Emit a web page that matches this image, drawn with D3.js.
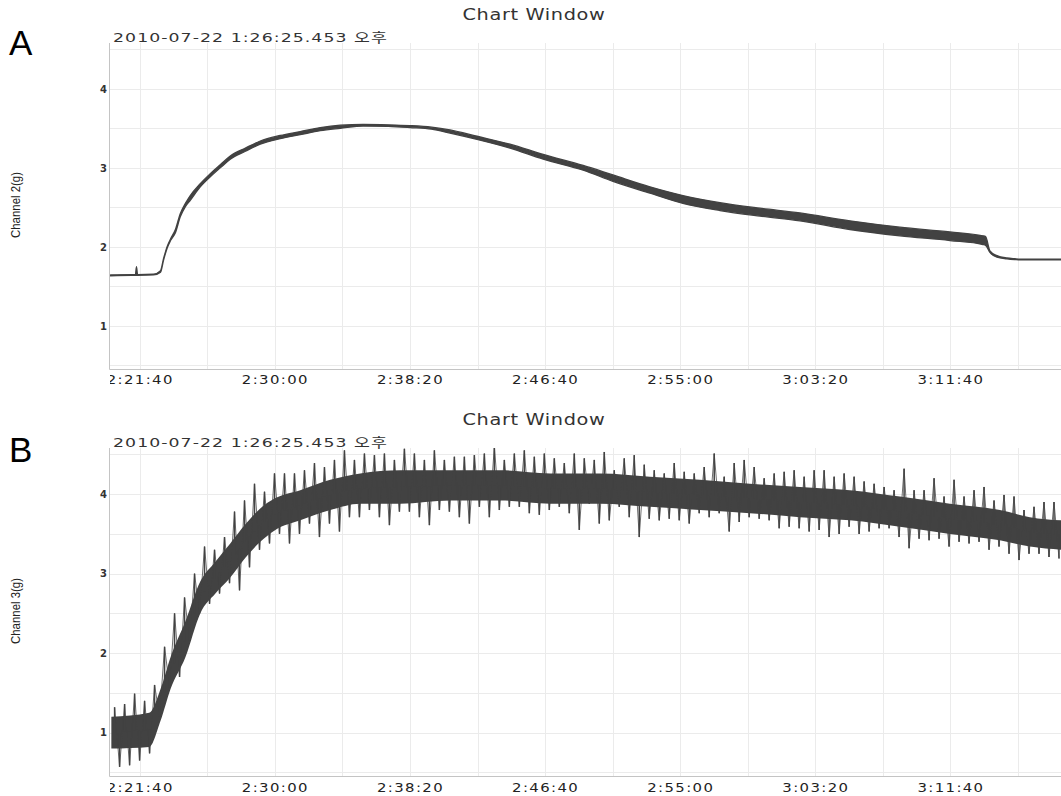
<!DOCTYPE html>
<html><head><meta charset="utf-8">
<script src="https://cdn.jsdelivr.net/npm/d3@7"></script>
<style>body{margin:0;background:#fff}svg{display:block}</style>
</head><body>
<svg id="c" width="1061" height="796"></svg>
<script>
// ---------- DATA ----------
const titleText = "Chart Window";
const dateText = "2010-07-22 1:26:25.453 오후";
const panelLetters = ["A", "B"];
const yLabels = ["Channel 2(g)", "Channel 3(g)"];
const xTickValues = [8500, 9000, 9500, 10000, 10500, 11000, 11500]; // seconds since 0:00
const yTickValues = [1, 2, 3, 4];

// Panel A (Channel 2): time (s), upper / lower envelope of the trace
const tA = [8392,8470,8484,8488,8492,8551,8577,8588,8602,8614,8632,8650,8669,8687,8724,8762,8798,8835,8891,8946,9020,9094,9168,9242,9327,9420,9500,9580,9648,9748,9870,9993,10141,10251,10388,10510,10647,10795,10943,11128,11313,11498,11620,11630,11646,11672,11709,11738,11757,11909];
const hiA = [1.645,1.65,1.65,1.75,1.65,1.655,1.70,1.85,2.01,2.10,2.22,2.42,2.55,2.65,2.80,2.93,3.04,3.15,3.25,3.34,3.41,3.46,3.51,3.54,3.55,3.545,3.535,3.515,3.48,3.40,3.30,3.17,3.03,2.91,2.76,2.65,2.56,2.49,2.43,2.33,2.25,2.19,2.14,2.13,1.95,1.89,1.86,1.85,1.845,1.845];
const loA = [1.635,1.64,1.64,1.64,1.64,1.645,1.68,1.83,1.99,2.08,2.18,2.38,2.51,2.59,2.76,2.89,3.00,3.11,3.21,3.30,3.37,3.42,3.47,3.50,3.53,3.525,3.51,3.49,3.44,3.36,3.25,3.11,2.97,2.83,2.68,2.55,2.46,2.39,2.33,2.22,2.14,2.08,2.03,2.02,1.93,1.87,1.85,1.84,1.835,1.835];

// Panel B (Channel 3): successive peak / trough samples of the noisy trace
const sampleStartB = 8407, sampleStepB = 18.49;
const vB = [
1.32,0.57, 1.36,0.59, 1.49,0.65, 1.40,0.74, 1.60,1.20, 2.08,1.57, 2.50,1.70, 2.70,2.16, 3.00,2.50, 3.34,2.62,
3.30,2.75, 3.46,2.88, 3.78,2.79, 3.92,3.08, 4.13,3.30, 4.03,3.38, 4.26,3.50, 4.26,3.38, 4.26,3.50, 4.30,3.63,
4.39,3.46, 4.34,3.63, 4.43,3.53, 4.55,3.71, 4.43,3.71, 4.51,3.80, 4.49,3.71, 4.51,3.61, 4.43,3.78, 4.57,3.78,
4.51,3.71, 4.43,3.61, 4.55,3.80, 4.43,3.78, 4.47,3.71, 4.47,3.63, 4.49,3.84, 4.51,3.71, 4.60,3.80, 4.43,3.84,
4.51,3.84, 4.55,3.76, 4.47,3.74, 4.51,3.80, 4.45,3.84, 4.39,3.76, 4.51,3.55,
4.45,3.88, 4.43,3.63, 4.53,3.67, 4.30,3.84, 4.45,3.71, 4.49,3.46, 4.37,3.69, 4.30,3.67, 4.26,3.69, 4.39,3.67,
4.28,3.63, 4.26,3.76, 4.34,3.71, 4.51,3.76, 4.22,3.53, 4.39,3.65, 4.43,3.71, 4.34,3.69, 4.20,3.67, 4.26,3.57,
4.28,3.59, 4.30,3.57, 4.22,3.53, 4.30,3.55, 4.30,3.46, 4.22,3.50, 4.26,3.59, 4.22,3.50, 4.16,3.53, 4.13,3.57,
4.09,3.57, 4.05,3.46, 4.32,3.32, 4.05,3.44, 4.05,3.42, 4.20,3.44, 3.97,3.34, 4.18,3.40, 3.97,3.38, 4.05,3.40,
4.09,3.30, 3.92,3.34, 3.99,3.25, 3.97,3.17, 3.80,3.25, 3.84,3.25, 3.90,3.21, 3.90,3.19
];
// Panel B dense core of the trace
const tCoreB = [8395,8535,8577,8614,8669,8724,8780,8835,8891,8946,9002,9094,9205,9316,9464,9649,9834,10019,10204,10388,10573,10758,10943,11128,11313,11498,11683,11794,11909];
const coreHiB = [1.20,1.25,1.55,1.95,2.40,2.90,3.15,3.38,3.62,3.82,3.95,4.05,4.18,4.26,4.30,4.30,4.30,4.26,4.26,4.22,4.18,4.13,4.09,4.05,3.97,3.88,3.80,3.71,3.67];
const coreLoB = [0.80,0.82,1.15,1.55,1.95,2.50,2.75,2.95,3.20,3.40,3.55,3.67,3.80,3.88,3.88,3.92,3.92,3.88,3.88,3.84,3.80,3.76,3.71,3.67,3.59,3.50,3.42,3.34,3.30];

// ---------- DRAW ----------
const svg = d3.select("#c");
const W = 1061;
const lineColor = "#424242";
const pad2 = n => String(n).padStart(2, "0");
const fmt = s => `${Math.floor(s / 3600)}:${pad2(Math.floor((s % 3600) / 60))}:${pad2(s % 60)}`;
const x = d3.scaleLinear().domain([8390, 11909]).range([110, W]);
const gridX = d3.range(8500, 11909, 250);
const gridY = d3.range(0.5, 4.6, 0.5);

const panels = [
  {top: 43, bottom: 369, titleY: 20, dateY: 42, letterY: 55, yLabelY: 205, tickY: 384},
  {top: 448, bottom: 776, titleY: 425, dateY: 447, letterY: 462, yLabelY: 611, tickY: 792}
];
const defs = svg.append("defs");

panels.forEach((p, i) => {
  const y = d3.scaleLinear().domain([0.455, 4.58]).range([p.bottom, p.top]);
  const g = svg.append("g");
  const cid = "clip" + i, lid = "lclip" + i;
  defs.append("clipPath").attr("id", cid).append("rect")
    .attr("x", 110).attr("y", p.top).attr("width", W - 110).attr("height", p.bottom - p.top);
  defs.append("clipPath").attr("id", lid).append("rect")
    .attr("x", 110).attr("y", p.bottom).attr("width", W - 110).attr("height", 30);

  // title, date, letter
  g.append("text").attr("x", 534).attr("y", p.titleY).attr("text-anchor", "middle")
    .attr("font-family", "DejaVu Sans, sans-serif").attr("font-size", 15).attr("fill", "#333")
    .attr("letter-spacing", 0.5)
    .attr("textLength", 143).attr("lengthAdjust", "spacingAndGlyphs").text(titleText);
  g.append("text").attr("x", 113).attr("y", p.dateY)
    .attr("font-family", "DejaVu Sans, 'Noto Sans CJK KR', sans-serif").attr("font-size", 13).attr("fill", "#333")
    .attr("letter-spacing", 0.8)
    .attr("textLength", 275).attr("lengthAdjust", "spacingAndGlyphs").text(dateText);
  g.append("text").attr("x", 9).attr("y", p.letterY)
    .attr("font-family", "Liberation Sans, Arial, sans-serif").attr("font-size", 35).attr("fill", "#000")
    .text(panelLetters[i]);
  // y label
  g.append("text").attr("transform", `translate(20,${p.yLabelY}) rotate(-90)`).attr("text-anchor", "middle")
    .attr("font-family", "Liberation Sans, Arial, sans-serif").attr("font-size", 13).attr("fill", "#222")
    .attr("textLength", 66).attr("lengthAdjust", "spacingAndGlyphs").text(yLabels[i]);

  // grid
  const grid = g.append("g").attr("stroke", "#ebebeb").attr("stroke-width", 1);
  grid.selectAll(".gx").data(gridX).join("line")
    .attr("x1", d => Math.round(x(d)) + 0.5).attr("x2", d => Math.round(x(d)) + 0.5)
    .attr("y1", p.top).attr("y2", p.bottom);
  grid.selectAll(".gy").data(gridY).join("line")
    .attr("x1", 110).attr("x2", W)
    .attr("y1", d => Math.round(y(d)) + 0.5).attr("y2", d => Math.round(y(d)) + 0.5);

  // axes lines
  g.append("line").attr("x1", 109.5).attr("x2", 109.5).attr("y1", p.top).attr("y2", p.bottom + 0.5).attr("stroke", "#c4c4c4");
  g.append("line").attr("x1", 109.5).attr("x2", W).attr("y1", p.bottom + 0.5).attr("y2", p.bottom + 0.5).attr("stroke", "#c4c4c4");

  // y axis ticks
  const ya = g.append("g").attr("transform", "translate(108,0)")
    .call(d3.axisLeft(y).tickValues(yTickValues).tickSize(0).tickPadding(1).tickFormat(d3.format("d")));
  ya.select(".domain").remove();
  ya.selectAll("text").attr("font-family", "DejaVu Sans, sans-serif").attr("font-size", 10).attr("font-weight", "bold").attr("fill", "#333");

  // x axis ticks
  const xa = g.append("g").attr("clip-path", `url(#${lid})`).append("g")
    .attr("transform", `translate(0,${p.bottom})`)
    .call(d3.axisBottom(x).tickValues(xTickValues).tickSize(0).tickPadding(0).tickFormat(fmt));
  xa.select(".domain").remove();
  xa.selectAll("text").attr("dy", null).attr("y", p.tickY - p.bottom)
    .attr("font-family", "DejaVu Sans, sans-serif").attr("font-size", 13).attr("fill", "#222")
    .attr("letter-spacing", 1.2)
    .attr("textLength", 67).attr("lengthAdjust", "spacingAndGlyphs");

  // data
  const plot = g.append("g").attr("clip-path", `url(#${cid})`);
  if (i === 0) {
    const area = d3.area().curve(d3.curveMonotoneX)
      .x((d, k) => x(tA[k])).y0((d, k) => y(loA[k])).y1((d, k) => y(hiA[k]));
    plot.append("path").datum(tA).attr("d", area)
      .attr("fill", lineColor).attr("stroke", lineColor).attr("stroke-width", 1.3).attr("stroke-linejoin", "round");
  } else {
    const area = d3.area().curve(d3.curveMonotoneX)
      .x((d, k) => x(tCoreB[k])).y0((d, k) => y(coreLoB[k])).y1((d, k) => y(coreHiB[k]));
    plot.append("path").datum(tCoreB).attr("d", area).attr("fill", lineColor);
    // the trace through the successive peaks / troughs
    const tB = k => sampleStartB + k * sampleStepB;
    plot.append("path").datum(vB)
      .attr("d", d3.line().x((d, k) => x(tB(k))).y(d => y(d)))
      .attr("fill", "none").attr("stroke", lineColor).attr("stroke-width", 0.9).attr("stroke-opacity", 0.85);
    // spikes from the middle of the dense core to each peak / trough
    const midB = d3.scaleLinear().domain(tCoreB).range(tCoreB.map((t, k) => (coreHiB[k] + coreLoB[k]) / 2)).clamp(true);
    plot.append("g").selectAll("line").data(vB).join("line")
      .attr("x1", (d, k) => x(tB(k))).attr("x2", (d, k) => x(tB(k)))
      .attr("y1", (d, k) => y(midB(tB(k))))
      .attr("y2", d => y(d))
      .attr("stroke", lineColor).attr("stroke-width", 1.5);
  }
});
</script>
</body></html>
